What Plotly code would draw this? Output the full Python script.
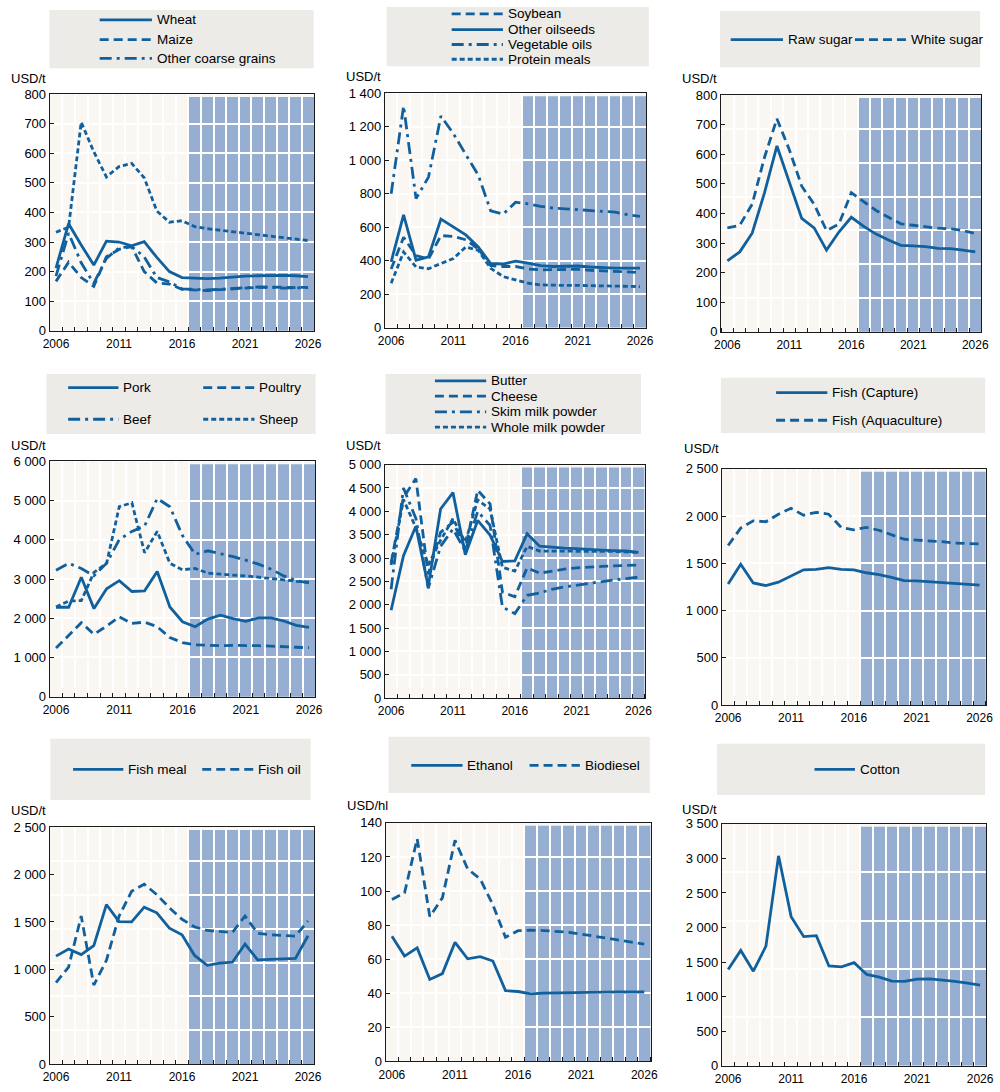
import plotly.graph_objects as go

W, H = 1000, 1092
years = list(range(2006, 2027))
xlabels = [2006, 2011, 2016, 2021, 2026]

# ---- data ----
wheat = [212, 362, 290, 222, 303, 300, 287, 301, 248, 200, 180, 178, 176, 178, 182, 185, 186, 187, 187, 186, 183]
maize = [167, 232, 180, 150, 250, 275, 285, 200, 162, 158, 140, 138, 136, 139, 142, 145, 147, 148, 146, 146, 147]
coarse = [185, 330, 230, 160, 245, 280, 285, 250, 180, 165, 142, 140, 138, 140, 143, 146, 148, 147, 144, 145, 146]
rice = [333, 350, 705, 605, 520, 555, 566, 517, 405, 367, 372, 352, 345, 340, 335, 332, 327, 322, 316, 310, 305]

soybean = [350, 540, 430, 410, 550, 545, 525, 470, 370, 365, 365, 350, 345, 345, 345, 348, 342, 340, 338, 333, 328]
oilseeds = [393, 674, 403, 423, 649, 600, 554, 482, 383, 380, 397, 385, 370, 365, 365, 368, 362, 358, 355, 356, 355]
vegoils = [800, 1325, 771, 900, 1265, 1160, 1035, 912, 698, 678, 750, 740, 725, 715, 710, 705, 700, 695, 690, 675, 665]
protein = [265, 452, 362, 352, 383, 413, 482, 462, 354, 305, 285, 265, 255, 252, 252, 252, 250, 248, 246, 245, 245]

raw_sugar = [240, 270, 333, 470, 628, 503, 383, 351, 276, 337, 387, 356, 330, 310, 292, 290, 288, 282, 281, 276, 270]
white_sugar = [351, 360, 431, 590, 720, 615, 492, 431, 342, 364, 470, 440, 410, 387, 365, 360, 355, 350, 348, 342, 332]

pork = [2280, 2280, 3045, 2246, 2750, 2958, 2682, 2700, 3193, 2288, 1911, 1785, 1980, 2078, 1990, 1920, 2010, 2010, 1930, 1820, 1770]
poultry = [1240, 1550, 1886, 1592, 1800, 2036, 1869, 1900, 1785, 1508, 1380, 1324, 1310, 1300, 1310, 1310, 1300, 1290, 1270, 1260, 1250]
beef = [3226, 3402, 3268, 3084, 3402, 4006, 4215, 4350, 5053, 4844, 4106, 3629, 3720, 3650, 3570, 3480, 3380, 3252, 3080, 2960, 2900]
sheep = [2288, 2439, 2450, 3168, 3402, 4844, 4944, 3670, 4215, 3402, 3235, 3270, 3150, 3120, 3100, 3080, 3050, 3020, 2980, 2940, 2920]

butter = [1880, 3050, 3680, 2390, 4050, 4400, 3070, 3805, 3490, 2925, 2940, 3520, 3254, 3230, 3210, 3200, 3180, 3170, 3160, 3150, 3120]
cheese = [2900, 4300, 4700, 2650, 3550, 3770, 3200, 4450, 4160, 2270, 2170, 2790, 2676, 2720, 2760, 2790, 2810, 2820, 2830, 2845, 2850]
smp = [2330, 4500, 3850, 2350, 3250, 3620, 3150, 4000, 3700, 1950, 1810, 2200, 2250, 2330, 2380, 2420, 2460, 2500, 2530, 2560, 2590]
wmp = [2850, 4250, 3650, 2850, 3380, 3840, 3340, 4240, 4050, 2800, 2720, 3250, 3150, 3150, 3150, 3150, 3145, 3140, 3140, 3130, 3120]

fish_capture = [1281, 1490, 1292, 1264, 1300, 1368, 1431, 1435, 1455, 1435, 1430, 1400, 1380, 1350, 1316, 1315, 1305, 1295, 1285, 1275, 1270]
fish_aqua = [1689, 1873, 1950, 1940, 2020, 2082, 2010, 2040, 2020, 1880, 1855, 1880, 1850, 1800, 1755, 1745, 1740, 1730, 1715, 1710, 1705]

fish_meal = [1139, 1215, 1156, 1250, 1684, 1503, 1500, 1656, 1597, 1434, 1365, 1146, 1042, 1065, 1075, 1267, 1100, 1108, 1110, 1115, 1354]
fish_oil = [858, 1024, 1562, 833, 1094, 1560, 1823, 1899, 1788, 1650, 1528, 1448, 1410, 1400, 1390, 1562, 1380, 1365, 1360, 1350, 1510]

ethanol = [73.4, 61.8, 66.6, 48.1, 51.5, 69.9, 60.2, 61.5, 58.9, 41.5, 41.0, 39.6, 40.0, 40.2, 40.3, 40.5, 40.6, 40.6, 40.7, 40.8, 40.7]
biodiesel = [95, 98.9, 130.7, 85, 96, 129.8, 113, 107, 92, 72.8, 76.7, 77, 76.8, 76.3, 75.8, 74.7, 73.5, 72.5, 71.3, 70.3, 68.8]

cotton = [1390, 1667, 1367, 1729, 3038, 2157, 1867, 1881, 1443, 1430, 1490, 1319, 1280, 1224, 1220, 1252, 1255, 1240, 1220, 1195, 1165]

# ---- styles ----
LINE = "#11609e"
SHADE = "#96aed1"
BEIGE = "#faf7f3"
LEGBG = "#edebe7"
FONT = "Liberation Sans Narrow, Arial Narrow, Liberation Sans, Arial, sans-serif"
LEGFS = 13.5
SOLID = "solid"
LONG = "9px,5px"
SHORT = "5px,3px"
DDOT = "12px,5px,3px,5px"
LW = 2.8

panels = [
    dict(dom=(43.3, 311.7, 88.3, 328.3), ymax=800, ydt=100, ncell=8, unit="USD/t", uxy=(2, 72),
         box=(43, 311, 3, 62),
         series=[("Rice", rice, SHORT), ("Maize", maize, LONG), ("Other coarse grains", coarse, DDOT), ("Wheat", wheat, SOLID)],
         leg=[("Wheat", SOLID, 94, 147, 13), ("Maize", LONG, 94, 147, 33), ("Other coarse grains", DDOT, 94, 147, 52)]),
    dict(dom=(383.3, 648.3, 87.7, 325.0), ymax=1400, ydt=200, ncell=7, unit="USD/t", uxy=(342, 70),
         box=(385, 651, 0, 60),
         series=[("Soybean", soybean, LONG), ("Other oilseeds", oilseeds, SOLID), ("Vegetable oils", vegoils, DDOT), ("Protein meals", protein, SHORT)],
         leg=[("Soybean", LONG, 451, 503, 7), ("Other oilseeds", SOLID, 451, 503, 23), ("Vegetable oils", DDOT, 451, 503, 38), ("Protein meals", SHORT, 451, 503, 53)]),
    dict(dom=(724.3, 988.3, 89.3, 329.3), ymax=800, ydt=100, ncell=7, unit="USD/t", uxy=(683, 72),
         box=(723, 987, 4, 61),
         series=[("Raw sugar", raw_sugar, SOLID), ("White sugar", white_sugar, LONG)],
         leg=[("Raw sugar", SOLID, 734, 787, 33), ("White sugar", LONG, 860, 912, 33)]),
    dict(dom=(43.3, 312.7, 460.7, 699.3), ymax=6000, ydt=1000, ncell=6, unit="USD/t", uxy=(2, 445),
         box=(40, 313, 372, 433),
         series=[("Pork", pork, SOLID), ("Poultry", poultry, LONG), ("Beef", beef, DDOT), ("Sheep", sheep, SHORT)],
         leg=[("Pork", SOLID, 62, 113, 386), ("Poultry", LONG, 199, 251, 386), ("Beef", DDOT, 62, 113, 418), ("Sheep", SHORT, 199, 251, 418)]),
    dict(dom=(383.3, 646.7, 464.0, 700.7), ymax=5000, ydt=500, ncell=10, unit="USD/t", uxy=(342, 445),
         box=(384, 643, 372, 433),
         series=[("Butter", butter, SOLID), ("Cheese", cheese, LONG), ("Skim milk powder", smp, DDOT), ("Whole milk powder", wmp, SHORT)],
         leg=[("Butter", SOLID, 434, 486, 379), ("Cheese", LONG, 434, 486, 394.5), ("Skim milk powder", DDOT, 434, 486, 410.5), ("Whole milk powder", SHORT, 434, 486, 426)]),
    dict(dom=(725.0, 992.7, 468.3, 707.7), ymax=2500, ydt=500, ncell=5, unit="USD/t", uxy=(685, 448),
         box=(724, 992, 376, 432),
         series=[("Fish (Capture)", fish_capture, SOLID), ("Fish (Aquaculture)", fish_aqua, LONG)],
         leg=[("Fish (Capture)", SOLID, 780, 832, 391), ("Fish (Aquaculture)", LONG, 780, 832, 419)]),
    dict(dom=(43.3, 311.7, 831.7, 1071.7), ymax=2500, ydt=500, ncell=7, unit="USD/t", uxy=(2, 815),
         box=(44, 308, 742, 804),
         series=[("Fish meal", fish_meal, SOLID), ("Fish oil", fish_oil, LONG)],
         leg=[("Fish meal", SOLID, 67, 118, 773), ("Fish oil", LONG, 198, 250, 773)]),
    dict(dom=(384.0, 652.7, 827.3, 1069.0), ymax=140, ydt=20, ncell=7, unit="USD/hl", uxy=(343, 810),
         box=(387, 652, 740, 797),
         series=[("Ethanol", ethanol, SOLID), ("Biodiesel", biodiesel, LONG)],
         leg=[("Ethanol", SOLID, 410, 462, 769), ("Biodiesel", LONG, 530, 581, 769)]),
    dict(dom=(725.0, 993.3, 828.3, 1073.3), ymax=3500, ydt=500, ncell=5, unit="USD/t", uxy=(683, 814),
         box=(720, 992, 747, 799),
         series=[("Cotton", cotton, SOLID)],
         leg=[("Cotton", SOLID, 819, 860, 773)]),
]

fig = go.Figure()
shapes, annotations = [], []
layout = dict(
    width=W, height=H, margin=dict(l=0, r=0, t=0, b=0),
    paper_bgcolor="white", plot_bgcolor=BEIGE, showlegend=False,
    separators=". ", font=dict(family=FONT, size=13, color="#000"),
)


def px(x):
    return x / W


def py(y):
    return 1 - y / H


for i, p in enumerate(panels, start=1):
    sfx = "" if i == 1 else str(i)
    x0, x1, yt, yb = p["dom"]
    ymax, ydt, n = p["ymax"], p["ydt"], p["ncell"]
    layout["xaxis" + sfx] = dict(
        domain=[px(x0), px(x1)], anchor="y" + sfx, range=[2005.5, 2026.5],
        tickmode="array", tickvals=xlabels, ticktext=[str(v) for v in xlabels],
        ticks="", showgrid=False, zeroline=False,
        showline=True, linecolor="#1a1a1a", linewidth=1, mirror=True,
        tickfont=dict(size=12, family=FONT), ticklabelstandoff=2,
        minor=dict(tickmode="array", tickvals=[2005.5 + k for k in range(22)],
                   ticks="inside", ticklen=4, tickcolor="#1a1a1a", tickwidth=1,
                   showgrid=True, gridcolor="white", gridwidth=2),
        fixedrange=True,
    )
    layout["yaxis" + sfx] = dict(
        domain=[py(yb), py(yt)], anchor="x" + sfx, range=[0, ymax],
        tickmode="array", tickvals=[k * ydt for k in range(int(round(ymax / ydt)) + 1)],
        ticks="inside", ticklen=4, tickcolor="#1a1a1a", tickwidth=1,
        separatethousands=True, showgrid=False, zeroline=False,
        showline=True, linecolor="#1a1a1a", linewidth=1, mirror=True,
        tickfont=dict(size=13, family=FONT),
        minor=dict(tickmode="array", tickvals=[ymax * k / n for k in range(1, n)],
                   ticks="", showgrid=True, gridcolor="white", gridwidth=2),
        fixedrange=True,
    )
    # projection shading
    shapes.append(dict(type="rect", xref="x" + sfx, yref="y" + sfx + " domain",
                       x0=2016.5, x1=2026.5, y0=0, y1=0.988,
                       fillcolor=SHADE, line=dict(width=0), layer="below"))
    # legend box
    bx0, bx1, by0, by1 = p["box"]
    shapes.append(dict(type="rect", xref="paper", yref="paper",
                       x0=px(bx0), x1=px(bx1), y0=py(by1), y1=py(by0),
                       fillcolor=LEGBG, line=dict(width=0), layer="below"))
    for name, dash, lx0, lx1, ly in p["leg"]:
        shapes.append(dict(type="line", xref="paper", yref="paper",
                           x0=px(lx0), x1=px(lx1), y0=py(ly), y1=py(ly),
                           line=dict(color=LINE, width=LW, dash=dash)))
        annotations.append(dict(xref="paper", yref="paper", x=px(lx1 + 3), y=py(ly),
                                xanchor="left", yanchor="middle", text=name, showarrow=False,
                                font=dict(size=LEGFS, family=FONT, color="#000")))
    # unit label
    ux, uy = p["uxy"]
    annotations.append(dict(xref="paper", yref="paper", x=px(ux), y=py(uy),
                            xanchor="left", yanchor="middle", text=p["unit"], showarrow=False,
                            font=dict(size=13, family=FONT, color="#000")))
    for name, vals, dash in p["series"]:
        fig.add_trace(go.Scatter(x=years, y=vals, name=name, mode="lines",
                                 line=dict(color=LINE, width=LW, dash=dash),
                                 xaxis="x" + sfx, yaxis="y" + sfx, showlegend=False))

layout["shapes"] = shapes
layout["annotations"] = annotations
fig.update_layout(**layout)
fig.write_html("out.html", config={"displayModeBar": False},
               post_script="document.body.style.margin='0';")
